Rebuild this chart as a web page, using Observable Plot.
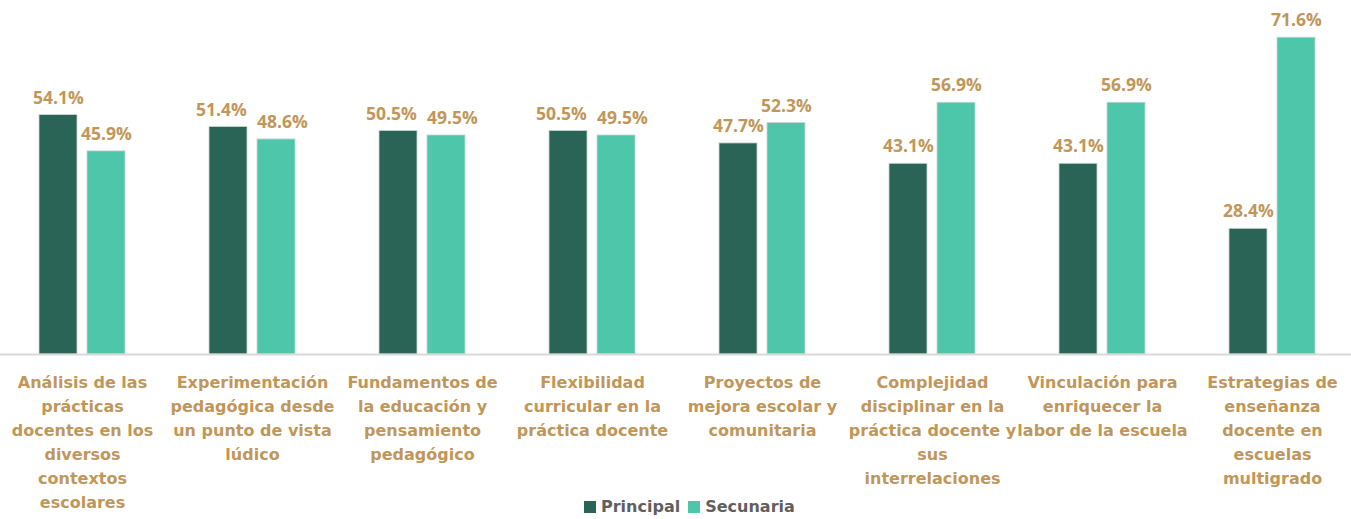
<!DOCTYPE html>
<html>
<head>
<meta charset="utf-8">
<script src="https://cdn.jsdelivr.net/npm/d3@7"></script>
<script src="https://cdn.jsdelivr.net/npm/@observablehq/plot@0.6"></script>
<style>
  html, body { margin: 0; padding: 0; background: #fff; }
  #wrap { position: relative; width: 1351px; height: 519px; }
  #legend { position: absolute; left: 584px; top: 497px; font: 700 16px "DejaVu Sans", sans-serif; color: #5f5f5f; display: flex; align-items: center; }
  #legend .sw { width: 12px; height: 12px; display: inline-block; margin-right: 5px; }
  #legend .it { display: flex; align-items: center; margin-right: 8px; }
</style>
</head>
<body>
<div id="wrap"></div>
<script>
const categories = [
  "Análisis de las\nprácticas\ndocentes en los\ndiversos\ncontextos\nescolares",
  "Experimentación\npedagógica desde\nun punto de vista\nlúdico",
  "Fundamentos de\nla educación y\npensamiento\npedagógico",
  "Flexibilidad\ncurricular en la\npráctica docente",
  "Proyectos de\nmejora escolar y\ncomunitaria",
  "Complejidad\ndisciplinar en la\npráctica docente y\nsus\ninterrelaciones",
  "Vinculación para\nenriquecer la\nlabor de la escuela",
  "Estrategias de\nenseñanza\ndocente en\nescuelas\nmultigrado"
];
const series = ["Principal", "Secunaria"];
const principal = [54.1, 51.4, 50.5, 50.5, 47.7, 43.1, 43.1, 28.4];
const secunaria = [45.9, 48.6, 49.5, 49.5, 52.3, 56.9, 56.9, 71.6];
const colors = ["#2a6457", "#4ec6aa"];

const data = [];
categories.forEach((c, i) => {
  // labels whose values are close would collide; they are nudged apart
  const close = Math.abs(principal[i] - secunaria[i]) < 3.5;
  data.push({cat: c, serie: series[0], value: principal[i], close});
  data.push({cat: c, serie: series[1], value: secunaria[i], close});
});

const gold = "#c0965a";
const labelOpts = {fx: "cat", x: "serie", y: "value", text: d => d.value.toFixed(1) + "%",
  dy: -17, fill: gold, fontWeight: 700, fontSize: 17.5, fontFamily: "'Open Sans', sans-serif"};

const chart = Plot.plot({
  width: 1351,
  height: 519,
  marginTop: 0,
  marginBottom: 165,
  marginLeft: -3,
  marginRight: -6,
  style: {fontFamily: "'DejaVu Sans', sans-serif", background: "#fff"},
  fx: {domain: categories, padding: 0, axis: null},
  x: {domain: series, paddingInner: 0.21, paddingOuter: 0.875, axis: null},
  y: {domain: [0, 80], axis: null},
  color: {domain: series, range: colors},
  marks: [
    Plot.barY(data, {fx: "cat", x: "serie", y: "value", fill: "serie", stroke: "#c9d6d2", strokeWidth: 0.8}),
    Plot.ruleY([0], {stroke: "#d9d9d9", strokeWidth: 2}),
    Plot.text(data.filter(d => !d.close), labelOpts),
    Plot.text(data.filter(d => d.close && d.serie === series[0]), {...labelOpts, dx: -7}),
    Plot.text(data.filter(d => d.close && d.serie === series[1]), {...labelOpts, dx: 6}),
    Plot.axisFx({anchor: "bottom", tickSize: 0, tickPadding: 16, label: null,
      fontSize: 16, fontWeight: 700, fill: gold, lineHeight: 1.5, textAnchor: "middle",
      fontFamily: "'DejaVu Sans', sans-serif"})
  ]
});
document.getElementById("wrap").appendChild(chart);

const legend = document.createElement("div");
legend.id = "legend";
series.forEach((s, i) => {
  const it = document.createElement("span");
  it.className = "it";
  const sw = document.createElement("span");
  sw.className = "sw";
  sw.style.background = colors[i];
  it.appendChild(sw);
  it.appendChild(document.createTextNode(s));
  legend.appendChild(it);
});
document.getElementById("wrap").appendChild(legend);
</script>
</body>
</html>
